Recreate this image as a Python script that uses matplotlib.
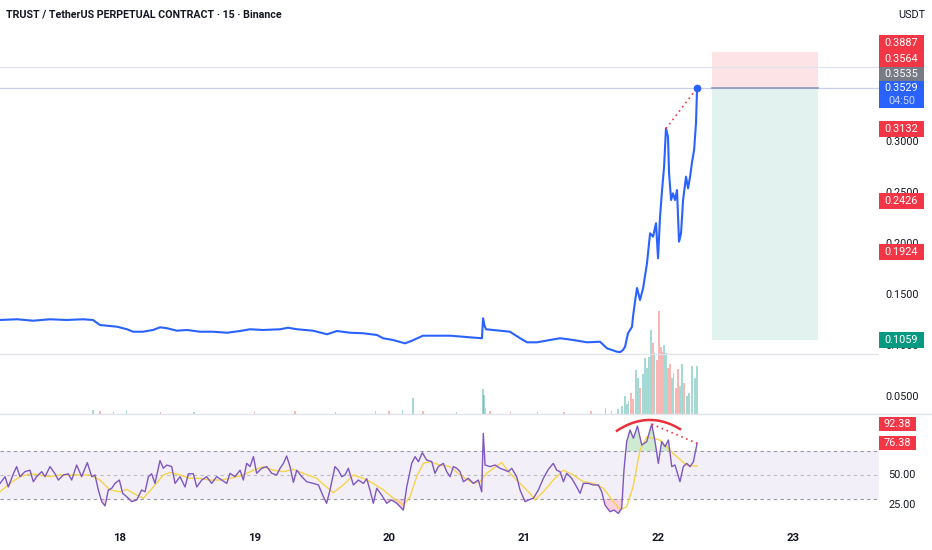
import matplotlib
matplotlib.use('Agg')
import matplotlib.pyplot as plt
import numpy as np
from matplotlib.patches import Rectangle
from matplotlib.lines import Line2D

plt.rcParams['font.family'] = ['Roboto', 'DejaVu Sans']

# ---- data (x in days of the month) ----
price_t = [17.109, 17.235, 17.354, 17.480, 17.606, 17.725, 17.799, 17.851, 17.903, 17.978,
           18.052, 18.097, 18.171, 18.245, 18.297, 18.349, 18.423, 18.498, 18.594, 18.691,
           18.795, 18.892, 18.966, 19.062, 19.189, 19.248, 19.315, 19.434, 19.538, 19.612,
           19.709, 19.805, 19.909, 19.954, 20.028, 20.117, 20.169, 20.251, 20.355, 20.452,
           20.548, 20.600, 20.689, 20.697, 20.708, 20.719, 20.771, 20.897, 20.972, 21.024,
           21.098, 21.195, 21.269, 21.366, 21.470, 21.566, 21.618, 21.692, 21.715, 21.737,
           21.752, 21.774, 21.804, 21.811, 21.826, 21.841, 21.863, 21.886, 21.915, 21.938,
           21.960, 21.982, 21.997, 22.012, 22.027, 22.042, 22.056, 22.071, 22.079, 22.094,
           22.108, 22.123, 22.138, 22.153, 22.168, 22.183, 22.205, 22.220, 22.235, 22.250,
           22.265, 22.279, 22.287]
price_v = [0.1255, 0.1262, 0.1248, 0.1262, 0.1255, 0.1262, 0.1255, 0.1206, 0.1199, 0.1189,
           0.1164, 0.1140, 0.1140, 0.1157, 0.1183, 0.1174, 0.1150, 0.1157, 0.1140, 0.1140,
           0.1130, 0.1147, 0.1164, 0.1157, 0.1164, 0.1179, 0.1164, 0.1150, 0.1115, 0.1147,
           0.1130, 0.1125, 0.1108, 0.1076, 0.1059, 0.1026, 0.1052, 0.1101, 0.1101, 0.1101,
           0.1091, 0.1085, 0.1076, 0.1272, 0.1200, 0.1164, 0.1157, 0.1140, 0.1076, 0.1036,
           0.1036, 0.1059, 0.1076, 0.1059, 0.1036, 0.1042, 0.0977, 0.0944, 0.0940, 0.0961,
           0.0993, 0.1125, 0.1189, 0.1287, 0.1434, 0.1569, 0.1451, 0.1566, 0.1811, 0.2105,
           0.2072, 0.2203, 0.1860, 0.2268, 0.2529, 0.2758, 0.3132, 0.3052, 0.2693, 0.2431,
           0.2497, 0.2431, 0.2529, 0.2023, 0.2105, 0.2431, 0.2660, 0.2546, 0.2660, 0.2807,
           0.2922, 0.3183, 0.3529]

vol_t = [17.80, 17.85, 17.95, 18.05, 18.30, 18.55, 19.00, 19.30, 19.60, 19.90, 20.00, 20.10,
         20.175, 20.25, 20.50, 20.697, 20.705, 20.715, 20.75, 20.90, 21.10, 21.30, 21.50,
         21.605, 21.65, 21.70, 21.73,
         21.752, 21.767, 21.778, 21.796, 21.811, 21.834, 21.848, 21.863, 21.886, 21.900,
         21.915, 21.930, 21.945, 21.960, 21.971, 21.989, 22.004, 22.019, 22.030, 22.042,
         22.056, 22.071, 22.086, 22.101, 22.112, 22.131, 22.146, 22.161, 22.175, 22.190,
         22.213, 22.227, 22.250, 22.272, 22.287]
vol_v = [0.4, 0.3, 0.2, 0.3, 0.2, 0.2, 0.2, 0.3, 0.2, 0.3, 0.3, 0.4,
         1.6, 0.3, 0.2, 2.5, 1.9, 0.6, 0.3, 0.2, 0.2, 0.2, 0.3,
         0.6, 0.3, 0.5, 0.8,
         1.8, 1.0, 1.3, 2.1, 1.5, 4.4, 3.6, 2.6, 4.0, 5.5,
         4.6, 5.6, 8.3, 7.0, 6.0, 5.3, 10.2, 6.6, 6.1, 6.8,
         6.0, 4.6, 5.0, 3.6, 4.1, 2.6, 4.5, 2.8, 5.0, 3.1,
         1.8, 2.1, 4.8, 3.6, 4.8]
vol_up = [1, 0, 0, 1, 0, 1, 0, 0, 0, 0, 0, 1,
          1, 0, 1, 1, 1, 0, 0, 0, 1, 0, 0,
          0, 1, 1, 1,
          1, 1, 1, 0, 0, 1, 1, 0, 1, 1,
          1, 1, 1, 0, 1, 0, 0, 0, 0, 1,
          1, 0, 0, 1, 1, 0, 0, 1, 1, 0,
          1, 1, 1, 1, 1]

rsi_t = [17.109, 17.146, 17.170, 17.208, 17.232, 17.257, 17.294, 17.331, 17.356, 17.381,
         17.418, 17.443, 17.480, 17.517, 17.542, 17.579, 17.616, 17.641, 17.678, 17.715,
         17.757, 17.790, 17.814, 17.839, 17.864, 17.889, 17.913, 17.938, 17.963, 17.995,
         18.020, 18.050, 18.087, 18.124, 18.161, 18.186, 18.211, 18.235, 18.260, 18.297,
         18.322, 18.347, 18.384, 18.409, 18.446, 18.483, 18.508, 18.545, 18.570, 18.607,
         18.644, 18.681, 18.718, 18.755, 18.793,
         18.817, 18.854, 18.892, 18.916, 18.941, 18.966, 18.991, 19.015, 19.053, 19.090,
         19.127, 19.164, 19.189, 19.214, 19.238, 19.263, 19.288, 19.313, 19.350, 19.387,
         19.436, 19.474, 19.511, 19.535, 19.560, 19.597, 19.622, 19.647, 19.672, 19.696,
         19.734, 19.771, 19.808, 19.833, 19.857, 19.882, 19.907, 19.944, 19.981, 20.018,
         20.056, 20.105, 20.130, 20.167, 20.192, 20.217, 20.246, 20.278, 20.316, 20.340,
         20.365, 20.402, 20.427, 20.452, 20.477, 20.501,
         20.526, 20.551, 20.588, 20.625, 20.662, 20.687, 20.699, 20.712, 20.749, 20.786,
         20.823, 20.860, 20.885, 20.910, 20.947, 20.972, 21.009, 21.034, 21.071, 21.108,
         21.145, 21.182, 21.219, 21.244, 21.269, 21.294, 21.318, 21.356, 21.393, 21.418,
         21.442, 21.479, 21.517, 21.554, 21.579, 21.603, 21.640, 21.670, 21.702, 21.727,
         21.744, 21.764, 21.789, 21.814, 21.844, 21.876, 21.913, 21.950, 21.975, 21.999,
         22.024, 22.049, 22.074, 22.099, 22.123, 22.160, 22.185, 22.210, 22.235, 22.260,
         22.287]
rsi_v = [43, 48.6, 40, 51, 57, 48.6, 52.8, 54, 44.4, 48.6,
         52.8, 48.6, 57, 51, 45.8, 50, 51, 45.8, 58.3, 48.6,
         60.3, 48.6, 50, 37.5, 27.8, 24.2, 37.5, 38.9, 43, 45.8,
         34.7, 31.9, 27.8, 29.2, 37.5, 36, 48.6, 51, 43, 62,
         55.6, 58.3, 57, 43, 48.6, 40, 51, 51, 40, 45.8,
         48.6, 43, 48.6, 45.8, 43,
         51.4, 48.6, 54, 45.8, 59.7, 57, 65.3, 51.4, 55.6, 57,
         51.4, 50, 55.6, 59.7, 65.8, 57, 43.9, 54, 48.6, 44.4,
         43, 41.7, 31.9, 26.4, 37.5, 57, 54, 48.6, 50, 55.6,
         41.7, 45.8, 43, 46.9, 37.5, 26.4, 38.9, 33.3, 26.4, 29.2,
         26.4, 20.8, 40, 59.7, 65.3, 61.1, 68.6, 62.5, 61.1, 51.4,
         57, 59.7, 52.8, 48.6, 57, 55.6,
         52.8, 44.4, 47.2, 43, 45.8, 36, 84.7, 58.3, 57, 58.3,
         55.6, 54, 52.8, 55.6, 48.6, 37.5, 27.8, 29.2, 30.6, 37.5,
         47.2, 54.7, 59.7, 54, 52.8, 44.4, 51.4, 47.2, 40, 34.7,
         43, 43, 41.7, 41.7, 36, 25, 19.4, 20.8, 18, 22.2,
         54, 77.8, 87.5, 80.6, 90.8, 75, 77.8, 92.4, 77.8, 59.7,
         77.8, 73.6, 79.2, 57, 58.3, 44.4, 57, 59.7, 57, 61.1,
         76.4]

ma_t = [17.109, 17.183, 17.257, 17.331, 17.406, 17.480, 17.554, 17.629, 17.703, 17.777,
        17.851, 17.926, 18.000, 18.050, 18.124, 18.173, 18.248, 18.322, 18.372, 18.446,
        18.520, 18.594, 18.669, 18.743, 18.817, 18.916, 18.991, 19.065, 19.139, 19.214,
        19.288, 19.362, 19.461, 19.535, 19.585, 19.659, 19.734, 19.808, 19.882, 19.957,
        20.031, 20.105, 20.155, 20.204, 20.254, 20.303, 20.377, 20.452, 20.526, 20.625,
        20.675, 20.724, 20.774, 20.836, 20.897, 20.972, 21.046, 21.083, 21.145, 21.219,
        21.294, 21.368, 21.442, 21.517, 21.591, 21.665, 21.715, 21.764, 21.811, 21.863,
        21.915, 22.012, 22.108, 22.212, 22.287]
ma_v = [36, 43, 48.6, 51, 50, 48.6, 50, 50, 50, 50,
        45.8, 37.5, 36, 38, 33.3, 30.6, 40, 50, 52.2, 50,
        47.2, 47.2, 45.8, 45.8, 47.2, 50, 54, 56.9, 54, 52.8,
        54.7, 51.4, 47.2, 40, 35.3, 41.7, 50, 47.2, 43, 37.5,
        30.6, 25, 31.9, 48.6, 59.7, 61.1, 58.3, 57, 50, 43,
        44.4, 51.4, 55.6, 60.3, 51.4, 43, 34.7, 29.2, 36, 45.8,
        54, 50, 44.4, 43, 38.9, 27.8, 21, 23.6, 40, 70.8,
        82, 79, 68, 58, 57.5]

# position tool (short) and marked levels
entry, stop, target = 0.3529, 0.3887, 0.1059
pos_start, pos_end = 22.398, 23.186
extra_levels = [0.3735, 0.0922]
price_ticks = [0.05, 0.10, 0.15, 0.20, 0.25, 0.30]
day_ticks = [18, 19, 20, 21, 22, 23]

W, H = 932, 550
BLUE = '#2962ff'
RED = '#f23645'
GREEN = '#089981'

fig = plt.figure(figsize=(W / 100, H / 100), dpi=100)
fig.patch.set_facecolor('white')

rect_p = [0, 1 - 414 / H, 879 / W, 386 / H]
ax_vol = fig.add_axes(rect_p)
ax = fig.add_axes(rect_p, sharex=ax_vol)
ax.patch.set_visible(False)
ax_rsi = fig.add_axes([0, 1 - 522 / H, 879 / W, 108 / H], sharex=ax_vol)

x0, x1 = 17.1085, 23.6386
ax.set_xlim(x0, x1)
ax.set_ylim(0.03333, 0.41176)
ax_vol.set_ylim(0, 10.2 * 386 / 103)
ax_rsi.set_ylim(10.83, 100.83)

for a in (ax, ax_vol, ax_rsi):
    for s in a.spines.values():
        s.set_visible(False)
    a.tick_params(length=0)
    a.set_yticks([])
ax.tick_params(labelbottom=False)
ax_vol.tick_params(labelbottom=False)

# volume
vcol = ['#26a69a' if u else '#ef5350' for u in vol_up]
ax_vol.bar(vol_t, vol_v, width=0.011, color=vcol, alpha=0.42, linewidth=0)

# position boxes
ax.fill_between([pos_start, pos_end], entry, stop, color='#fde3e6', lw=0, zorder=1)
ax.fill_between([pos_start, pos_end], target, entry, color='#e2f2ef', lw=0, zorder=1)
ax.plot([pos_start, pos_end], [entry, entry], color='#8a9bb8', lw=1.2, zorder=2)

for lv in extra_levels:
    ax.axhline(lv, color='#e0e3eb', lw=0.9, zorder=1)
ax.axhline(entry, color='#c9cfe6', lw=0.9, zorder=1)

ax.plot(price_t, price_v, color=BLUE, lw=1.5, zorder=3)
ipk = int(np.argmax(price_v[:-5]))
ax.plot([price_t[ipk], price_t[-1]], [price_v[ipk], price_v[-1]], color=RED,
        lw=1.2, ls=(0, (1, 2.2)), zorder=3)
ax.plot(price_t[-1], price_v[-1], 'o', color=BLUE, ms=4.5, zorder=4)

# RSI pane
ax_rsi.fill_between([x0, x1], 30, 70, color='#7e57c2', alpha=0.09, lw=0)
for lv, al in ((70, 1), (50, 0.6), (30, 1)):
    ax_rsi.axhline(lv, color='#9598a1', lw=0.8, ls=(0, (3, 3)), alpha=al)
rt = np.array(rsi_t)
rv = np.array(rsi_v)
ax_rsi.fill_between(rt, rv, 70, where=rv > 70, interpolate=True, color='#66bb6a', alpha=0.3, lw=0)
ax_rsi.fill_between(rt, rv, 30, where=rv < 30, interpolate=True, color='#f06292', alpha=0.3, lw=0)
ax_rsi.plot(ma_t, ma_v, color='#f5d547', lw=1.0)
ax_rsi.plot(rt, rv, color='#7e57c2', lw=1.0)

# divergence drawings
arc_x = [21.692, 21.915, 22.160]
arc_y = [86.9, 95.8, 88.3]
cf = np.polyfit(arc_x, arc_y, 2)
xs = np.linspace(arc_x[0], arc_x[-1], 60)
ax_rsi.plot(xs, np.polyval(cf, xs), color='#e8313a', lw=1.8)
irk = int(np.argmax(rv))
ax_rsi.plot([rt[irk], rt[-1]], [rv[irk], rv[-1]], color=RED, lw=1.2, ls=(0, (1, 2.2)))

ax_rsi.set_xticks(day_ticks)
ax_rsi.set_xticklabels([str(d) for d in day_ticks], fontsize=8.2, fontweight='bold',
                       color='#131722')
ax_rsi.tick_params(axis='x', pad=8)

# separator across the whole width
fig.add_artist(Line2D([0, 1], [1 - 414 / H] * 2, color='#e0e3eb', lw=1,
                      transform=fig.transFigure))

# header
fig.text(6 / W, 1 - 15 / H, 'TRUST / TetherUS PERPETUAL CONTRACT · 15 · Binance',
         fontsize=7.7, fontweight='bold', color='#131722', va='center', ha='left')
fig.text(912 / W, 1 - 15 / H, 'USDT', fontsize=7.8, color='#131722', va='center', ha='center')


def ypx(a, v):
    return a.transData.transform((x0, v))[1]


def tick(a, v, txt):
    fig.text(902 / W, ypx(a, v) / H, txt, fontsize=7.8, color='#131722',
             ha='center', va='center', zorder=3)


def tag(a, v, txt, fc, dy=0, h=16, w=45, sub=None):
    yc = ypx(a, v) + dy
    if sub is None:
        top, bot = yc + h / 2, yc - h / 2
    else:
        top, bot = yc + 7, yc - 20
    fig.add_artist(Rectangle((879 / W, bot / H), w / W, (top - bot) / H,
                             transform=fig.transFigure, fc=fc, ec='none', zorder=4))
    fig.text((879 + w / 2) / W, yc / H, txt, fontsize=7.8, color='white', ha='center',
             va='center', zorder=5)
    if sub is not None:
        fig.text((879 + w / 2) / W, (yc - 13) / H, sub, fontsize=7.8, color='#c9d6ff',
                 ha='center', va='center', zorder=5)


for v in price_ticks:
    tick(ax, v, f'{v:.4f}')
tick(ax_rsi, 50, '50.00')
tick(ax_rsi, 25, '25.00')

tag(ax, stop, '0.3887', RED, dy=8.5, h=17)
tag(ax, 0.3564, '0.3564', RED, dy=25.5, h=16)
tag(ax, 0.3535, '0.3535', '#787b86', dy=13, h=15)
tag(ax, entry, '0.3529', BLUE, sub='04:50')
tag(ax, 0.3132, '0.3132', RED)
tag(ax, 0.2426, '0.2426', RED)
tag(ax, 0.1924, '0.1924', RED)
tag(ax, target, '0.1059', GREEN)
tag(ax_rsi, 92.38, '92.38', RED, h=14, w=37)
tag(ax_rsi, 76.38, '76.38', RED, h=14, w=37)

fig.savefig('out.png', dpi=100, facecolor='white')
